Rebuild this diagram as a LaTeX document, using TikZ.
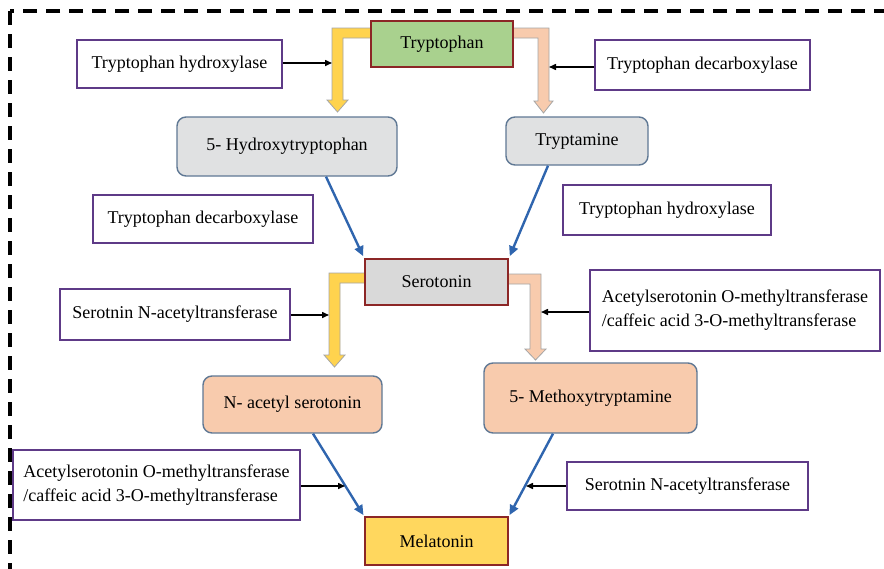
\documentclass[tikz,border=0pt]{standalone}
\usepackage{fontspec}
\setmainfont{Liberation Serif}
\usetikzlibrary{arrows.meta,calc}
\definecolor{trpgreen}{HTML}{A9D18E}
\definecolor{boxred}{RGB}{140,38,38}
\definecolor{sergray}{HTML}{D9D9D9}
\definecolor{melgold}{HTML}{FFD75E}
\definecolor{rgray}{HTML}{E0E1E2}
\definecolor{rborder}{HTML}{5F7894}
\definecolor{peach}{HTML}{F8CBAD}
\definecolor{arryellow}{HTML}{FFD34E}
\definecolor{arrgray}{HTML}{A5A5A5}
\definecolor{enzpurple}{HTML}{5E3A87}
\definecolor{flowblue}{HTML}{2F65AE}
\begin{document}
\begin{tikzpicture}[x=1pt,y=-1pt,
  font=\fontsize{18}{24}\selectfont,
  every node/.style={inner sep=0pt, align=center},
  metab/.style={draw=boxred, line width=2pt},
  rbox/.style={draw=rborder, line width=1.4pt, rounded corners=9pt},
  enz/.style={draw=enzpurple, line width=2pt, fill=white, align=left},
  blockarr/.style={draw=arrgray, line width=0.8pt},
  flow/.style={draw=flowblue, line width=2.4pt, -{Triangle[length=10pt,width=9pt]}},
  cat/.style={draw=black, line width=1.5pt, -{Triangle[length=7pt,width=6pt]}}]
\useasboundingbox (0,0) rectangle (884,568);
\clip (0,0) rectangle (884,568);
% dashed frame
\draw[line width=3.2pt, dash pattern=on 14pt off 9pt] (10,11) rectangle (905,590);

% block arrows (drawn first, boxes on top)
\filldraw[blockarr, fill=arryellow] (374,28) -- (332,28) -- (332,100) -- (327,100) -- (337.5,112) -- (348,100) -- (343,100) -- (343,38) -- (374,38) -- cycle;
\filldraw[blockarr, fill=peach] (510,28) -- (549,28) -- (549,101) -- (553,101) -- (543.5,113) -- (534,101) -- (538,101) -- (538,38) -- (510,38) -- cycle;
\filldraw[blockarr, fill=arryellow] (368,273) -- (329,273) -- (329,355) -- (324,355) -- (334.5,367) -- (345,355) -- (340,355) -- (340,283) -- (368,283) -- cycle;
\filldraw[blockarr, fill=peach] (505,274) -- (541,274) -- (541,349) -- (546,349) -- (535.5,360) -- (525,349) -- (530,349) -- (530,284) -- (505,284) -- cycle;

% metabolites
\node[metab, fill=trpgreen, minimum width=142pt, minimum height=46pt] (trp) at (442,44) {Tryptophan};
\node[rbox, fill=rgray, minimum width=220pt, minimum height=59pt] (ht5) at (287,146.5) {5- Hydroxytryptophan};
\node[rbox, fill=rgray, minimum width=142pt, minimum height=48pt] (tam) at (577,141) {Tryptamine};
\node[metab, fill=sergray, minimum width=143pt, minimum height=46pt] (ser) at (436.5,282) {Serotonin};
\node[rbox, fill=peach, minimum width=179pt, minimum height=57pt] (nas) at (292.5,404.5) {N- acetyl serotonin};
\node[rbox, fill=peach, minimum width=213pt, minimum height=70pt] (mxt) at (590.5,398) {5- Methoxytryptamine};
\node[metab, fill=melgold, minimum width=143pt, minimum height=48pt] (mel) at (436.5,541) {Melatonin};

% enzymes
\node[enz, minimum width=205pt, minimum height=48pt] (e1) at (179.5,64) {Tryptophan hydroxylase};
\node[enz, minimum width=215pt, minimum height=50pt] (e2) at (702.5,65) {Tryptophan decarboxylase};
\node[enz, minimum width=220pt, minimum height=48pt] (e3) at (203,219) {Tryptophan decarboxylase};
\node[enz, minimum width=208pt, minimum height=50pt] (e4) at (667,210) {Tryptophan hydroxylase};
\node[enz, minimum width=230pt, minimum height=51pt] (e5) at (175,314.5) {Serotnin N-acetyltransferase};
\node[enz, minimum width=290pt, minimum height=81pt] (e6) at (735,310.5) {Acetylserotonin O-methyltransferase\\/caffeic acid 3-O-methyltransferase};
\node[enz, minimum width=287pt, minimum height=70pt] (e7) at (156.5,485) {Acetylserotonin O-methyltransferase\\/caffeic acid 3-O-methyltransferase};
\node[enz, minimum width=241pt, minimum height=48pt] (e8) at (687.5,486) {Serotnin N-acetyltransferase};

% blue flow arrows
\draw[flow, shorten >=2pt] ([xshift=39pt]ht5.south) -- (ser.north west);
\draw[flow, shorten >=2pt] ([xshift=-29pt]tam.south) -- (ser.north east);
\draw[flow, shorten >=1pt] ([xshift=20.5pt]nas.south) -- (mel.north west);
\draw[flow, shorten >=1pt] ([xshift=-37.5pt]mxt.south) -- (mel.north east);

% catalysis arrows
\coordinate (c1) at (332,63);
\coordinate (c2) at (549,67);
\coordinate (c5) at (329,315);
\coordinate (c6) at (541,312);
\coordinate (c7) at (345,486);
\coordinate (c8) at (526,486);
\draw[cat] (e1.east |- c1) -- (c1);
\draw[cat] (e2.west |- c2) -- (c2);
\draw[cat] (e5.east |- c5) -- (c5);
\draw[cat] (e6.west |- c6) -- (c6);
\draw[cat] (e7.east |- c7) -- (c7);
\draw[cat] (e8.west |- c8) -- (c8);
\end{tikzpicture}
\end{document}
